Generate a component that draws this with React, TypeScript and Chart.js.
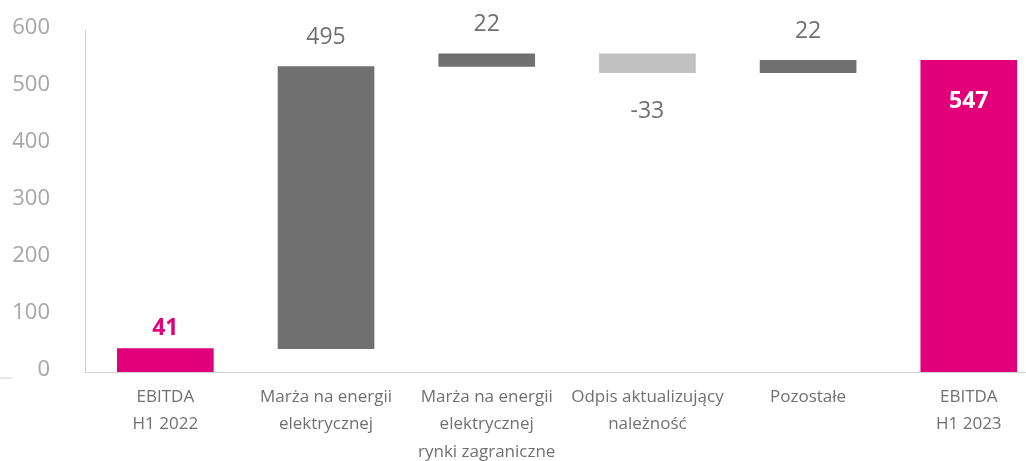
import React, { useEffect, useRef } from "react";
import { Chart, registerables } from "chart.js";

Chart.register(...registerables);

const categories: string[][] = [
  ["EBITDA", "H1 2022"],
  ["Marża na energii", "elektrycznej"],
  ["Marża na energii", "elektrycznej", "rynki zagraniczne"],
  ["Odpis aktualizujący", "należność"],
  ["Pozostałe"],
  ["EBITDA", "H1 2023"],
];
const values: number[] = [41, 495, 22, -33, 22, 547];
const isTotal: boolean[] = [true, false, false, false, false, true];
const yTicks: number[] = [0, 100, 200, 300, 400, 500, 600];

const PINK = "#E2007A";
const DARK = "#707070";
const LIGHT = "#C1C1C1";
const AXIS = "#CFCFCF";
const FONT = "'Open Sans', 'DejaVu Sans', sans-serif";

function buildBars() {
  let run = 0;
  return values.map((v, i) => {
    if (isTotal[i]) {
      run = v;
      return { x: i, y: [0, v] };
    }
    const start = run;
    run += v;
    return { x: i, y: [start, run] };
  });
}

const valueLabels = {
  id: "valueLabels",
  afterDatasetsDraw(chart: any) {
    const { ctx } = chart;
    const meta = chart.getDatasetMeta(0);
    const yScale = chart.scales.y;
    const bars = buildBars();
    ctx.save();
    ctx.textAlign = "center";
    ctx.textBaseline = "middle";
    meta.data.forEach((el: any, i: number) => {
      const v = values[i];
      const [a, b] = bars[i].y;
      const top = yScale.getPixelForValue(Math.max(a, b));
      const bottom = yScale.getPixelForValue(Math.min(a, b));
      let y: number;
      if (isTotal[i]) {
        const big = v > 300;
        ctx.font = `bold 23px ${FONT}`;
        ctx.fillStyle = big ? "#FFFFFF" : PINK;
        y = big ? top + 41 : top - 20;
      } else {
        ctx.font = `23px ${FONT}`;
        ctx.fillStyle = DARK;
        y = v >= 0 ? top - 29 : bottom + 39;
      }
      ctx.fillText(String(v), el.x, y);
    });
    // small stray line at left, as in reference
    ctx.strokeStyle = AXIS;
    ctx.lineWidth = 1;
    ctx.beginPath();
    ctx.moveTo(0, yScale.getPixelForValue(0) + 6);
    ctx.lineTo(12, yScale.getPixelForValue(0) + 6);
    ctx.stroke();
    ctx.restore();
  },
};

export default function App() {
  const ref = useRef<HTMLCanvasElement | null>(null);

  useEffect(() => {
    if (!ref.current) return;
    const bars = buildBars();
    const chart = new Chart(ref.current, {
      type: "bar",
      data: {
        datasets: [
          {
            data: bars as any,
            backgroundColor: values.map((v, i) =>
              isTotal[i] ? PINK : v < 0 ? LIGHT : DARK
            ),
            borderWidth: 0,
            barThickness: 96,
          },
        ],
      },
      options: {
        animation: false,
        responsive: false,
        layout: { padding: { top: 30, left: 0, right: 0, bottom: 0 } },
        plugins: {
          legend: { display: false },
          tooltip: { enabled: false },
        },
        scales: {
          x: {
            type: "linear",
            offset: false,
            min: -0.5,
            max: 5.356,
            grid: { display: false, offset: false },
            border: { display: true, color: AXIS, width: 1 },
            afterBuildTicks: (axis: any) => {
              axis.ticks = categories.map((_, i) => ({ value: i }));
            },
            afterFit: (axis: any) => {
              axis.height = 89;
              axis.paddingLeft = 0;
              axis.paddingRight = 0;
            },
            ticks: {
              autoSkip: false,
              maxRotation: 0,
              padding: 3,
              color: DARK,
              font: { family: FONT, size: 17, lineHeight: 1.63 },
              callback: (value: any) => {
                const i = Math.round(Number(value));
                return categories[i] ?? "";
              },
            },
          },
          y: {
            min: 0,
            max: 600,
            grid: { display: false },
            border: { display: true, color: AXIS, width: 1 },
            afterBuildTicks: (axis: any) => {
              axis.ticks = yTicks.map((v) => ({ value: v }));
            },
            afterFit: (axis: any) => {
              axis.width = 85;
              axis.paddingTop = 0;
              axis.paddingBottom = 0;
            },
            ticks: {
              padding: 27,
              labelOffset: -2,
              color: "#A6A6A6",
              font: { family: FONT, size: 22 },
            },
          },
        },
      },
      plugins: [valueLabels],
    });
    return () => chart.destroy();
  }, []);

  return (
    <div style={{ position: "absolute", left: 0, top: 0, width: 1026, height: 461, background: "#fff" }}>
      <canvas ref={ref} width={1026} height={461} />
    </div>
  );
}
